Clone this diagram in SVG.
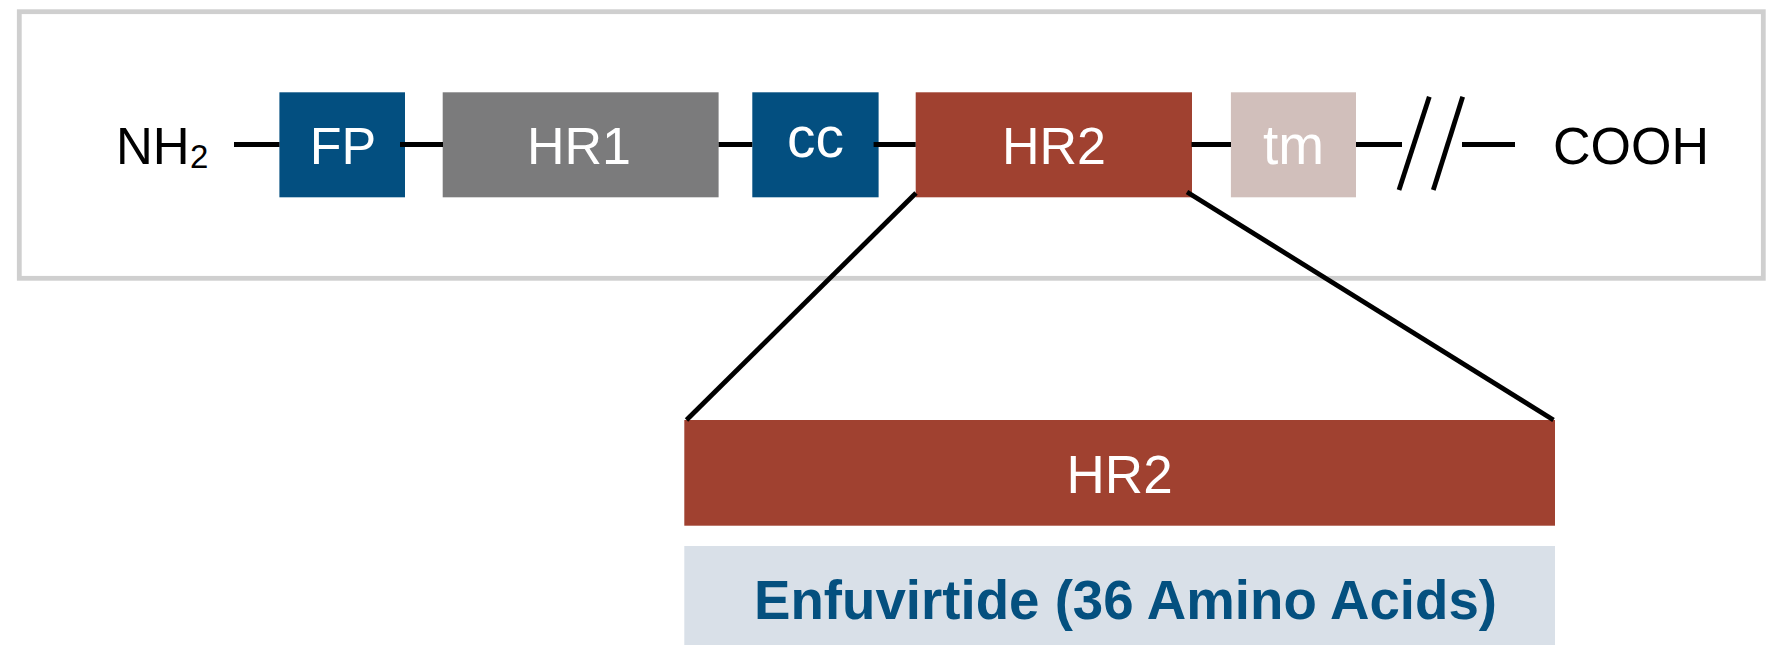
<svg xmlns="http://www.w3.org/2000/svg" width="1782" height="645" viewBox="0 0 1782 645">
  <style>
    .lbl { font-family: "Liberation Sans", Arial, sans-serif; }
    .w { fill: #ffffff; }
    .k { fill: #000000; }
    .ln { stroke: #000000; stroke-width: 4.8; fill: none; }
  </style>
  <rect x="0" y="0" width="1782" height="645" fill="#ffffff"/>
  <rect id="frame" x="19.3" y="11.7" width="1744" height="266.6" fill="#ffffff" stroke="#cfcfcf" stroke-width="4.8"/>

  <g id="nh2">
    <text class="lbl k" x="116" y="164.3" font-size="51">NH</text>
    <text class="lbl k" x="190" y="168.3" font-size="33">2</text>
  </g>
  <g id="fp">
    <rect x="279.4" y="92.3" width="125.6" height="105" fill="#034f80"/>
    <text class="lbl w" x="343" y="164.3" font-size="52" text-anchor="middle">FP</text>
  </g>
  <g id="hr1">
    <rect x="442.7" y="92.3" width="275.9" height="105" fill="#7b7b7c"/>
    <text class="lbl w" x="579" y="164.3" font-size="52" text-anchor="middle">HR1</text>
  </g>
  <g id="cc">
    <rect x="752.3" y="92.3" width="126.3" height="105" fill="#034f80"/>
    <text class="lbl w" x="815.5" y="157" font-size="57" text-anchor="middle">cc</text>
  </g>
  <g id="hr2">
    <rect x="915.7" y="92.3" width="276.3" height="105" fill="#a04130"/>
    <text class="lbl w" x="1054" y="164.3" font-size="52" text-anchor="middle">HR2</text>
  </g>
  <g id="tm">
    <rect x="1230.9" y="92.3" width="125.1" height="105" fill="#d1bfbb"/>
    <text class="lbl w" x="1293.5" y="164.3" font-size="55" text-anchor="middle">tm</text>
  </g>
  <g id="cooh">
    <text class="lbl k" x="1553" y="163.5" font-size="52">COOH</text>
  </g>

  <g id="hr2-detail">
    <rect x="684.3" y="420" width="870.7" height="105.7" fill="#a04130"/>
    <text class="lbl w" x="1119.6" y="493.3" font-size="53" text-anchor="middle">HR2</text>
  </g>
  <g id="enfuvirtide">
    <rect x="684.3" y="546" width="870.7" height="110" fill="#d9e0e8"/>
    <text class="lbl" x="754" y="619" font-size="56" font-weight="bold" fill="#04507f" textLength="743" lengthAdjust="spacingAndGlyphs">Enfuvirtide (36 Amino Acids)</text>
  </g>

  <g id="connectors">
    <line class="ln" x1="234" y1="144.5" x2="279.5" y2="144.5"/>
    <line class="ln" x1="400" y1="144.5" x2="443" y2="144.5"/>
    <line class="ln" x1="718.6" y1="144.5" x2="752.3" y2="144.5"/>
    <line class="ln" x1="873.6" y1="144.5" x2="915.7" y2="144.5"/>
    <line class="ln" x1="1191.5" y1="144.5" x2="1231" y2="144.5"/>
    <line class="ln" x1="1356" y1="144.5" x2="1402" y2="144.5"/>
    <line class="ln" x1="1399" y1="190" x2="1429.3" y2="96.7"/>
    <line class="ln" x1="1433.3" y1="190" x2="1462.7" y2="96.7"/>
    <line class="ln" x1="1462" y1="144.5" x2="1515" y2="144.5"/>
    <line class="ln" x1="916" y1="193" x2="686.5" y2="420"/>
    <line class="ln" x1="1187" y1="192" x2="1553.5" y2="420"/>
  </g>
</svg>
